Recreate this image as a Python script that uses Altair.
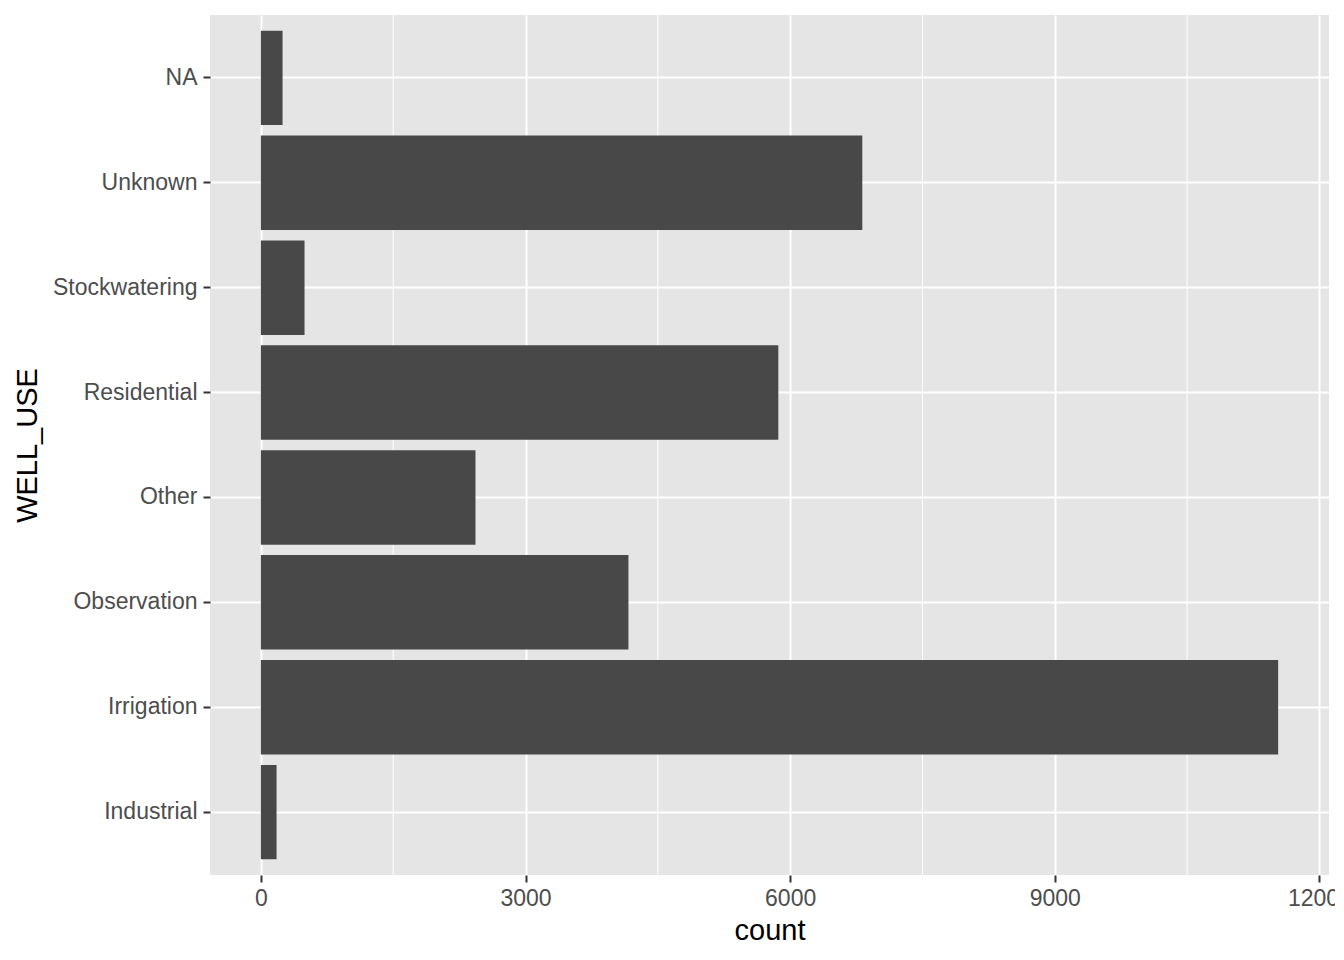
import altair as alt
import pandas as pd

categories = ["Industrial", "Irrigation", "Observation", "Other", "Residential",
              "Stockwatering", "Unknown", "NA"]
counts = [178, 11532, 4167, 2433, 5866, 495, 6818, 246]
x_ticks = [0, 3000, 6000, 9000, 12000]
x_minor = [1500, 4500, 7500, 10500]

df = pd.DataFrame({"WELL_USE": categories, "count": counts})
minor_df = pd.DataFrame({"count": x_minor})

mx = max(counts)
xscale = alt.Scale(domain=[-0.05 * mx, 1.05 * mx], nice=False, zero=False)
xaxis = alt.Axis(values=x_ticks, format="d", labelPadding=5, titlePadding=6)

FONT = "Liberation Sans"

minor = alt.Chart(minor_df).mark_rule(color="white", strokeWidth=1).encode(
    x=alt.X("count:Q", scale=xscale, title="count", axis=xaxis)
)

bars = alt.Chart(df).mark_bar(color="#484848").encode(
    x=alt.X("count:Q", scale=xscale, title="count", axis=xaxis),
    y=alt.Y("WELL_USE:N", sort=list(reversed(categories)),
            scale=alt.Scale(paddingInner=0.1, paddingOuter=0.15),
            title="WELL_USE",
            axis=alt.Axis(bandPosition=0.5, labelPadding=6, titlePadding=10)),
)

chart = alt.layer(minor, bars).properties(
    width=1119, height=860,
    autosize=alt.AutoSizeParams(type="none"),
    padding={"left": 202, "top": 7, "right": 6, "bottom": 75},
    background="white",
).configure_view(
    fill="#E5E5E5", strokeWidth=0
).configure_axis(
    domain=False,
    grid=True,
    gridColor="white",
    gridWidth=2,
    tickColor="#333333",
    tickWidth=2,
    tickSize=7,
    labelColor="#4D4D4D",
    labelFont=FONT,
    labelFontSize=23,
    titleFont=FONT,
    titleFontSize=29,
    titleFontWeight="normal",
    titleColor="black",
)

chart.save("out.html", embed_options={"renderer": "svg", "actions": False})
